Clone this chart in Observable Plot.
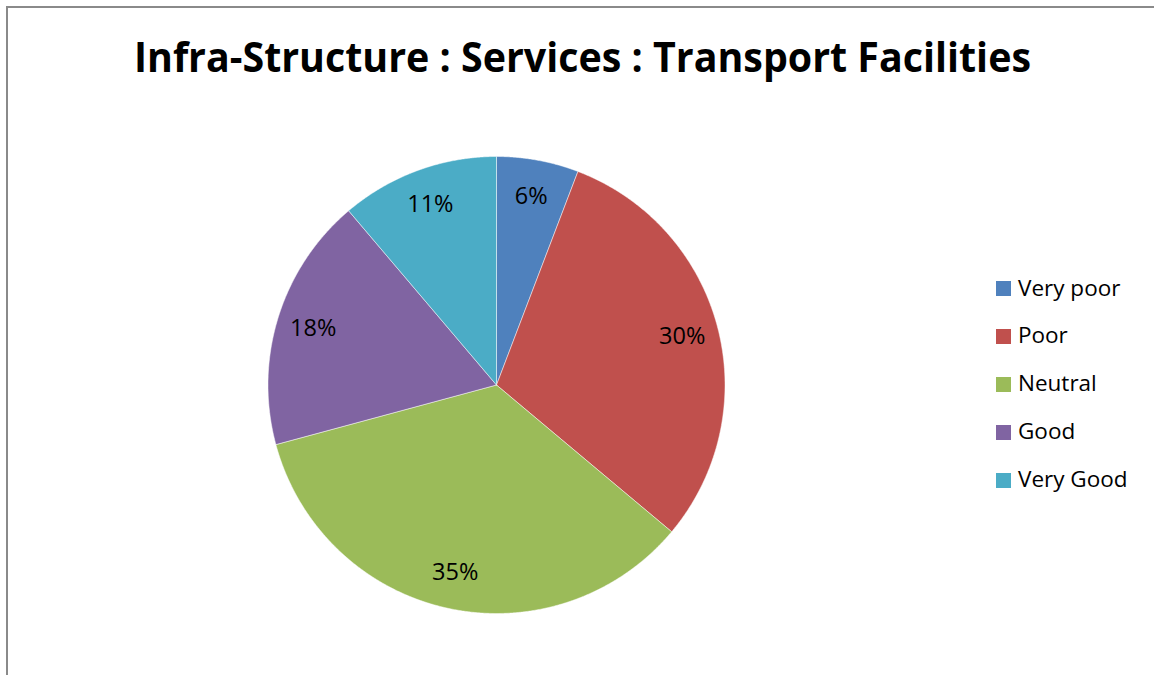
<!DOCTYPE html>
<html><head><meta charset="utf-8">
<script src="https://cdn.jsdelivr.net/npm/d3@7"></script>
<script src="https://cdn.jsdelivr.net/npm/@observablehq/plot@0.6"></script>
<style>
html,body{margin:0;padding:0;background:#fff;}
#wrap{position:relative;width:1154px;height:675px;overflow:hidden;font-family:"Open Sans",sans-serif;color:#000;}
#chart{position:absolute;left:0;top:0;}
#frame{position:absolute;left:6px;top:6px;width:1200px;height:700px;border-left:2px solid #8a8a8a;border-top:2px solid #8a8a8a;pointer-events:none;}
#title{position:absolute;left:0;top:35px;width:1165px;text-align:center;font-weight:700;font-size:42px;line-height:42px;white-space:nowrap;}
#title span{display:inline-block;transform-origin:center;}
.lg{position:absolute;left:996px;font-size:22.5px;line-height:22.5px;white-space:nowrap;}
.lg i{position:absolute;left:0;width:15px;height:15px;}
.lg span{position:absolute;left:22px;top:0;}
</style></head>
<body>
<div id="wrap">
  <div id="chart"></div>
  <div id="title"><span>Infra-Structure : Services : Transport Facilities</span></div>
  <div id="legend"></div>
  <div id="frame"></div>
</div>
<script>
// ---- data ----
const categories = ["Very poor", "Poor", "Neutral", "Good", "Very Good"];
const values = [5.8, 30.3, 34.7, 18.0, 11.2];
const colors = ["#4F81BD", "#C0504D", "#9BBB59", "#8064A2", "#4BACC6"];

// ---- layout ----
const W = 1154, H = 675, cx = 496, cy = 384.5, R = 228.5;
const total = d3.sum(values);
const arcs = d3.pie().sort(null).value(d => d)(values);

const marks = [];
arcs.forEach((a, i) => {
  const pts = [{x: 0, y: 0}];
  const n = Math.max(4, Math.ceil((a.endAngle - a.startAngle) / 0.005));
  for (let k = 0; k <= n; k++) {
    const t = a.startAngle + (a.endAngle - a.startAngle) * k / n;
    pts.push({x: Math.sin(t), y: Math.cos(t)});
  }
  pts.push({x: 0, y: 0});
  marks.push(Plot.line(pts, {x: "x", y: "y", fill: colors[i], stroke: "white", strokeWidth: 0.6, strokeOpacity: 0.8}));
});
const labels = arcs.map((a, i) => {
  const m = (a.startAngle + a.endAngle) / 2;
  return {x: 0.84 * Math.sin(m), y: 0.84 * Math.cos(m), t: Math.round(values[i] / total * 100) + "%"};
});
marks.push(Plot.text(labels, {x: "x", y: "y", text: "t", fontSize: 23.5, fill: "black"}));

const plot = Plot.plot({
  width: W, height: H,
  marginLeft: 0, marginRight: 0, marginTop: 0, marginBottom: 0,
  x: {domain: [-cx / R, (W - cx) / R], axis: null},
  y: {domain: [-(H - cy) / R, cy / R], axis: null},
  style: {background: "transparent", fontFamily: "'Open Sans', sans-serif"},
  marks
});
document.getElementById("chart").appendChild(plot);

// legend
const lg = document.getElementById("legend");
categories.forEach((c, i) => {
  const base = 296.5 + i * 47.8;
  const asc = (1.069 - 0.181) * 22.5;
  const d = document.createElement("div");
  d.className = "lg";
  d.style.top = (base - asc) + "px";
  d.innerHTML = `<i style="background:${colors[i]};top:${asc - 15}px"></i><span>${c}</span>`;
  lg.appendChild(d);
});

// title width fit
const ts = document.querySelector("#title span");
const w = ts.getBoundingClientRect().width;
ts.style.transform = `scaleX(${897 / w})`;
</script>
</body></html>
